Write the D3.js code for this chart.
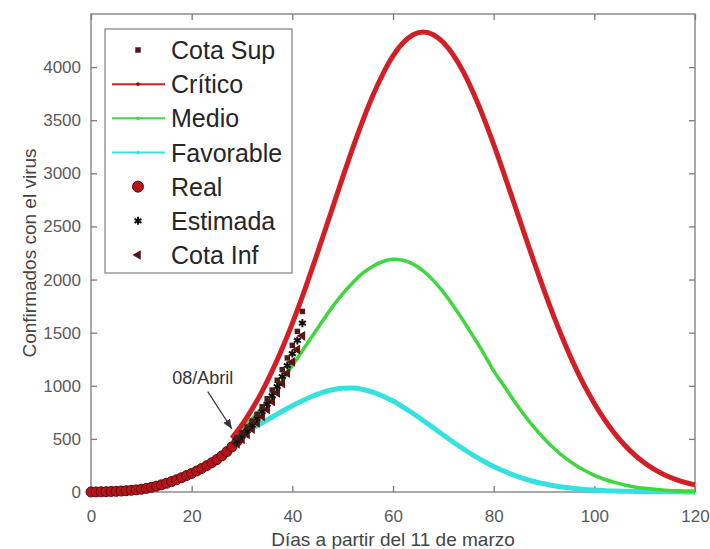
<!DOCTYPE html>
<html>
<head>
<meta charset="utf-8">
<script src="https://cdn.jsdelivr.net/npm/d3@7"></script>
<style>
body { margin: 0; background: #fff; }
svg { display: block; font-family: "Liberation Sans", Arial, sans-serif; }
</style>
</head>
<body>
<div id="chart"></div>
<script>
// days for the three projection curves (they fork from the 08/Abril point)
var curveDays = [28,30,32,34,36,38,40,42,44,46,48,50,52,54,56,58,60,62,64,66,68,70,72,74,76,78,80,
    82,84,86,88,90,92,94,96,98,100,102,104,106,108,110,112,114,116,118,120];
var critico = [508,633,780,948,1140,1353,1588,1842,2112,2393,2677,2962,3238,3497,3733,3937,4105,4229,4304,4330,
    4305,4232,4113,3952,3753,3525,3272,3003,2725,2446,2168,1900,1647,1413,1197,1003,834,683,553,442,349,273,211,161,122,91,67];
var medio = [500,590,690,800,920,1050,1190,1330,1470,1610,1745,1865,1970,2060,2125,2170,2190,2182,2145,2081,
    1992,1881,1752,1610,1460,1306,1140,1003,862,730,610,504,410,329,261,204,157,120,90,66,48,35,25,17,12,8,5];
var favorable = [500,548,598,652,706,760,812,860,902,938,962,977,978,965,940,902,856,800,739,673,
    604,536,469,405,344,289,240,197,159,126,99,77,59,44,33,24,18,13,9,7,5,3,3,2,2,1,1];

var realDays = [0,1,2,3,4,5,6,7,8,9,10,11,12,13,14,15,16,17,18,19,20,21,22,23,24,25,26,27,28,29];
var real = [0,1,2,3,5,6,9,12,16,20,26,34,44,55,68,82,98,115,135,155,175,198,222,248,275,305,340,380,425,475];

var estDays = [29,30,31,32,33,34,35,36,37,38,39,40,41,42];
var estimada = [480,526,576,630,690,756,828,906,992,1087,1190,1303,1427,1590];
var cotaSup = [510,558,612,668,732,802,878,960,1052,1152,1262,1381,1512,1700];
var cotaInf = [452,494,541,592,649,711,778,852,932,1022,1119,1225,1341,1470];

var xTicks = [0,20,40,60,80,100,120];
var yTicks = [0,500,1000,1500,2000,2500,3000,3500,4000];

var legendNames = ["Cota Sup","Crítico","Medio","Favorable","Real","Estimada","Cota Inf"];

// annotation: text position and arrow from tail to tip (day, value)
var annotText = "08/Abril";
var annotTextAt = [22.2, 1073];
var annotTail = [23.2, 945];
var annotTip = [28.0, 593];

var width = 710, height = 549;
var margin = {top: 14, right: 15, bottom: 57, left: 91};

var svg = d3.select("#chart").append("svg")
    .attr("width", width)
    .attr("height", height);

var x = d3.scaleLinear().domain([0, 120]).range([margin.left, width - margin.right]);
var y = d3.scaleLinear().domain([0, 4500]).range([height - margin.bottom, margin.top]);

var axisColor = "#7a7a7a";
var tickTextColor = "#5a5a5a";

// plot frame
svg.append("rect")
    .attr("x", x(0)).attr("y", y(4500))
    .attr("width", x(120) - x(0)).attr("height", y(0) - y(4500))
    .attr("fill", "none").attr("stroke", axisColor).attr("stroke-width", 1.3);

function styleAxis(g) {
    g.select(".domain").remove();
    g.selectAll("line").attr("stroke", axisColor).attr("stroke-width", 1.3);
    g.selectAll("text").attr("fill", tickTextColor).attr("font-size", 17)
        .attr("font-family", "Liberation Sans, Arial, sans-serif");
}

svg.append("g")
    .attr("transform", "translate(0," + y(0) + ")")
    .call(d3.axisBottom(x).tickValues(xTicks).tickSizeInner(-6).tickSizeOuter(0).tickPadding(18))
    .call(styleAxis);
svg.append("g")
    .attr("transform", "translate(0," + y(4500) + ")")
    .call(d3.axisTop(x).tickValues(xTicks).tickSizeInner(-6).tickSizeOuter(0).tickFormat(""))
    .call(styleAxis);
svg.append("g")
    .attr("transform", "translate(" + x(0) + ",0)")
    .call(d3.axisLeft(y).tickValues(yTicks).tickSizeInner(-6).tickSizeOuter(0).tickPadding(10).tickFormat(d3.format("d")))
    .call(styleAxis);
svg.append("g")
    .attr("transform", "translate(" + x(120) + ",0)")
    .call(d3.axisRight(y).tickValues(yTicks).tickSizeInner(-6).tickSizeOuter(0).tickFormat(""))
    .call(styleAxis);

// axis titles
svg.append("text")
    .attr("x", (x(0) + x(120)) / 2)
    .attr("y", 546)
    .attr("text-anchor", "middle")
    .attr("font-size", 19)
    .attr("fill", "#444")
    .text("Días a partir del 11 de marzo");

svg.append("text")
    .attr("transform", "translate(36," + (y(0) + y(4500)) / 2 + ") rotate(-90)")
    .attr("text-anchor", "middle")
    .attr("font-size", 19)
    .attr("fill", "#444")
    .text("Confirmados con el virus");

// curves
var line = d3.line()
    .x(function(d) { return x(d[0]); })
    .y(function(d) { return y(d[1]); })
    .curve(d3.curveMonotoneX);

var curves = [
    {name: "Favorable", values: favorable, color: "#35e0e0", width: 5},
    {name: "Medio", values: medio, color: "#3fd63f", width: 3.5},
    {name: "Crítico", values: critico, color: "#d11f25", width: 5}
];

curves.forEach(function(c) {
    svg.append("path")
        .datum(d3.zip(curveDays, c.values))
        .attr("fill", "none")
        .attr("stroke", c.color)
        .attr("stroke-width", c.width)
        .attr("stroke-linejoin", "round")
        .attr("d", line);
});

// real data
svg.append("g").selectAll("circle")
    .data(d3.zip(realDays, real))
    .enter().append("circle")
    .attr("cx", function(d) { return x(d[0]); })
    .attr("cy", function(d) { return y(d[1]); })
    .attr("r", 5)
    .attr("fill", "#b5141b")
    .attr("stroke", "#5a0a0a")
    .attr("stroke-width", 1);

var triangle = d3.symbol().type(d3.symbolTriangle).size(40);
var square = d3.symbol().type(d3.symbolSquare).size(30);
var star = d3.symbol().type(d3.symbolAsterisk).size(45);

svg.append("g").selectAll("path")
    .data(d3.zip(estDays, cotaInf))
    .enter().append("path")
    .attr("d", triangle)
    .attr("transform", function(d) { return "translate(" + x(d[0]) + "," + y(d[1]) + ") rotate(-90)"; })
    .attr("fill", "#5e1414");

svg.append("g").selectAll("path")
    .data(d3.zip(estDays, estimada))
    .enter().append("path")
    .attr("d", star)
    .attr("transform", function(d) { return "translate(" + x(d[0]) + "," + y(d[1]) + ")"; })
    .attr("fill", "none")
    .attr("stroke", "#111")
    .attr("stroke-width", 2);

svg.append("g").selectAll("path")
    .data(d3.zip(estDays, cotaSup))
    .enter().append("path")
    .attr("d", square)
    .attr("transform", function(d) { return "translate(" + x(d[0]) + "," + y(d[1]) + ")"; })
    .attr("fill", "#4a1c1c");

// annotation
svg.append("defs").append("marker")
    .attr("id", "arrow")
    .attr("viewBox", "0 0 10 10")
    .attr("refX", 10).attr("refY", 5)
    .attr("markerWidth", 8).attr("markerHeight", 8)
    .attr("orient", "auto")
    .append("path")
    .attr("d", "M0,1 L10,5 L0,9 Z")
    .attr("fill", "#333");

svg.append("line")
    .attr("x1", x(annotTail[0])).attr("y1", y(annotTail[1]))
    .attr("x2", x(annotTip[0])).attr("y2", y(annotTip[1]))
    .attr("stroke", "#333").attr("stroke-width", 1.2)
    .attr("marker-end", "url(#arrow)");

svg.append("text")
    .attr("x", x(annotTextAt[0])).attr("y", y(annotTextAt[1]))
    .attr("dy", "0.35em")
    .attr("text-anchor", "middle")
    .attr("font-size", 18)
    .attr("fill", "#333")
    .text(annotText);

// legend
var lg = svg.append("g");
lg.append("rect")
    .attr("x", 105).attr("y", 29)
    .attr("width", 187).attr("height", 244)
    .attr("fill", "#fff")
    .attr("stroke", "#8a8a8a").attr("stroke-width", 1.3);

var rowY = d3.scalePoint().domain(legendNames).range([50, 255]);
var sx = 138;

legendNames.forEach(function(name) {
    var ry = rowY(name);
    if (name === "Cota Sup") {
        lg.append("path").attr("d", square).attr("transform", "translate(" + sx + "," + ry + ")").attr("fill", "#4a1c1c");
    } else if (name === "Real") {
        lg.append("circle").attr("cx", sx).attr("cy", ry).attr("r", 5.5)
            .attr("fill", "#b5141b").attr("stroke", "#5a0a0a");
    } else if (name === "Estimada") {
        lg.append("path").attr("d", star).attr("transform", "translate(" + sx + "," + ry + ")")
            .attr("fill", "none").attr("stroke", "#111").attr("stroke-width", 2);
    } else if (name === "Cota Inf") {
        lg.append("path").attr("d", triangle).attr("transform", "translate(" + sx + "," + ry + ") rotate(-90)")
            .attr("fill", "#5e1414");
    } else {
        var c = curves.filter(function(k) { return k.name === name; })[0];
        lg.append("line").attr("x1", 112).attr("x2", 165).attr("y1", ry).attr("y2", ry)
            .attr("stroke", c.color).attr("stroke-width", 2);
        lg.append("circle").attr("cx", sx).attr("cy", ry).attr("r", 1.8).attr("fill", name === "Crítico" ? "#7a1010" : c.color);
    }
    lg.append("text")
        .attr("x", 171).attr("y", ry)
        .attr("dy", "0.36em")
        .attr("font-size", 25)
        .attr("fill", "#262626")
        .text(name);
});
</script>
</body>
</html>
